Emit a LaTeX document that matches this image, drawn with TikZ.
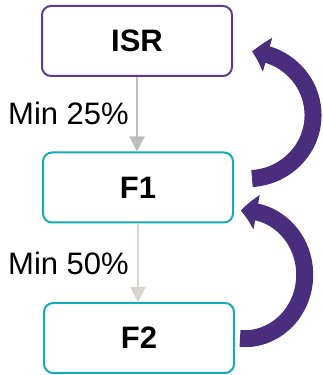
\documentclass[tikz,border=0pt]{standalone}
\usepackage{fontspec}
\setmainfont{Liberation Sans}
\usetikzlibrary{arrows.meta,bending,calc}
\definecolor{isrpurple}{HTML}{5B3C8E}
\definecolor{fteal}{HTML}{17ABB6}
\definecolor{loopviolet}{HTML}{4A2E7E}
\definecolor{flowgrey}{HTML}{BDBDBD}
\definecolor{flowsand}{HTML}{D8D3CB}
\begin{document}
\begin{tikzpicture}[x=1pt,y=1pt,
  stage/.style={draw, line width=2pt, rounded corners=9pt, fill=white,
    minimum width=190pt, minimum height=70pt, inner sep=0pt,
    font=\fontsize{31}{31}\selectfont\bfseries},
  share/.style={font=\fontsize{31}{31}\selectfont, anchor=base west, inner sep=0pt},
  feed/.style={line width=2pt, -{Triangle[width=15pt,length=15pt]}},
  loop/.style={loopviolet, line width=17pt, -{Triangle[width=34pt,length=16pt,bend]}}]
\useasboundingbox (0,0) rectangle (323,375);

% stages
\node[stage, draw=isrpurple] (isr) at (137,334) {ISR};
\node[stage, draw=fteal] (f1) at (138,187.5) {F1};
\node[stage, draw=fteal] (f2) at (139,37) {F2};

% downward flow with minimum shares
\draw[feed, flowgrey] (isr.south) -- (isr.south |- f1.north);
\draw[feed, flowsand] (f1.south) -- (f1.south |- f2.north);
\node[share] (m25) at (8,250) {Min 25\%};
\node[share] (m50) at (8,100) {Min 50\%};

% return loops
\coordinate (t1) at ($(f1.east)+(18,9)$);
\coordinate (t2) at ($(f2.east)+(5,-0.5)$);
\draw[loop] (t1) arc[start angle=-86.5, end angle=86.5, x radius=65pt, y radius=63.5pt];
\draw[loop] (t2) arc[start angle=-94.5, end angle=93.8, x radius=60pt, y radius=64pt];
\end{tikzpicture}
\end{document}
